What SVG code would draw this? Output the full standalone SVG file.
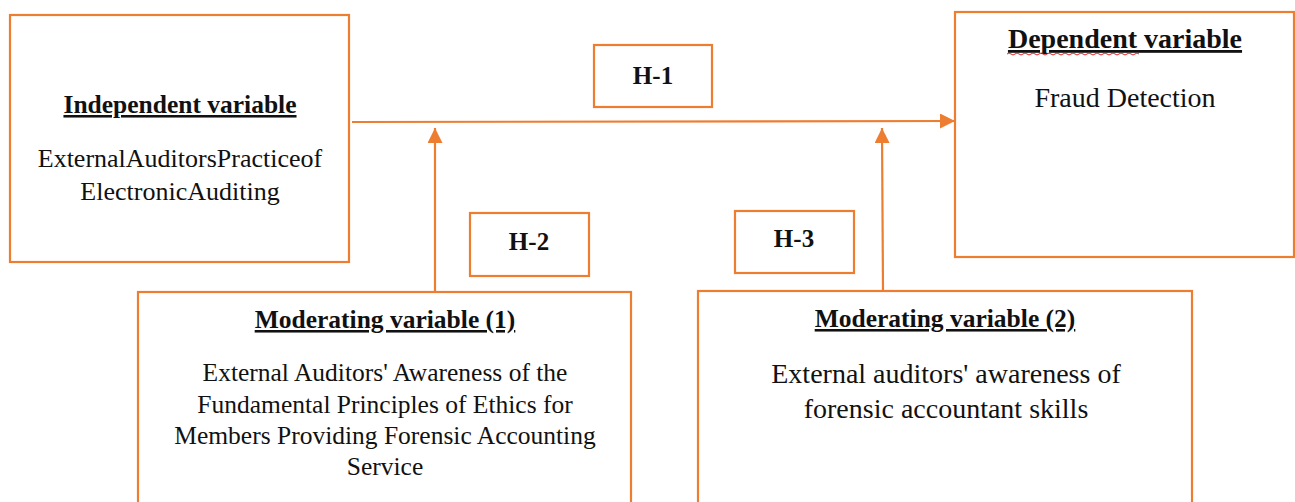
<svg xmlns="http://www.w3.org/2000/svg" width="1295" height="502" viewBox="0 0 1295 502">
<style>
.box{fill:#fff;stroke:#ED7D31;stroke-width:2.2}
.con{fill:none;stroke:#ED7D31;stroke-width:2.2}
.t{font-family:"Liberation Serif","Times New Roman",serif;fill:#111;text-anchor:middle}
.b{font-weight:bold;text-decoration:underline}
.h{font-weight:bold}
</style>
<defs>
<marker id="ah" markerUnits="userSpaceOnUse" markerWidth="16" markerHeight="16" refX="15" refY="7.5" orient="auto">
<path d="M0,0 L15,7.5 L0,15 Z" fill="#ED7D31"/>
</marker>
</defs>
<rect width="1295" height="502" fill="#fff"/>
<g id="connectors">
<line class="con" x1="352" y1="122" x2="955" y2="121" marker-end="url(#ah)"/>
<line class="con" x1="435" y1="292" x2="435" y2="128" marker-end="url(#ah)"/>
<line class="con" x1="883" y1="291" x2="882" y2="128" marker-end="url(#ah)"/>
</g>
<g id="independent">
<rect class="box" x="10" y="15" width="339" height="247"/>
<text class="t b" x="180" y="113" font-size="25.5">Independent variable</text>
<text class="t" x="180" y="167" font-size="26">ExternalAuditorsPracticeof</text>
<text class="t" x="180" y="200" font-size="26">ElectronicAuditing</text>
</g>
<g id="dependent">
<rect class="box" x="955" y="12" width="339" height="245"/>
<text class="t b" x="1125" y="48" font-size="28">Dependent variable</text>
<path d="M1007,54 q2,-2 4,0 t4,0 t4,0 t4,0 t4,0 t4,0 t4,0 t4,0 t4,0 t4,0 t4,0 t4,0 t4,0 t4,0 t4,0 t4,0 t4,0 t4,0 t4,0 t4,0 t4,0 t4,0 t4,0 t4,0 t4,0 t4,0 t4,0 t4,0 t4,0 t4,0 t4,0 t4,0 t4,0" fill="none" stroke="#d22" stroke-width="1"/>
<text class="t" x="1125" y="107" font-size="28">Fraud Detection</text>
</g>
<g id="h1">
<rect class="box" x="594" y="45" width="118" height="62"/>
<text class="t h" x="653" y="84" font-size="25">H-1</text>
</g>
<g id="h2">
<rect class="box" x="470" y="213" width="119" height="63"/>
<text class="t h" x="529" y="250" font-size="25">H-2</text>
</g>
<g id="h3">
<rect class="box" x="735" y="211" width="119" height="62"/>
<text class="t h" x="794" y="247" font-size="25">H-3</text>
</g>
<g id="moderating1">
<rect class="box" x="138" y="292" width="493" height="230"/>
<text class="t b" x="385" y="328" font-size="25.5">Moderating variable (1)</text>
<text class="t" x="385" y="381" font-size="25.5">External Auditors' Awareness of the</text>
<text class="t" x="385" y="413" font-size="25.5">Fundamental Principles of Ethics for</text>
<text class="t" x="385" y="444" font-size="25.5">Members Providing Forensic Accounting</text>
<text class="t" x="385" y="475" font-size="25.5">Service</text>
</g>
<g id="moderating2">
<rect class="box" x="698" y="291" width="494" height="230"/>
<text class="t b" x="945" y="327" font-size="25.5">Moderating variable (2)</text>
<text class="t" x="946" y="383" font-size="28">External auditors' awareness of</text>
<text class="t" x="946" y="418" font-size="28">forensic accountant skills</text>
</g>
</svg>
